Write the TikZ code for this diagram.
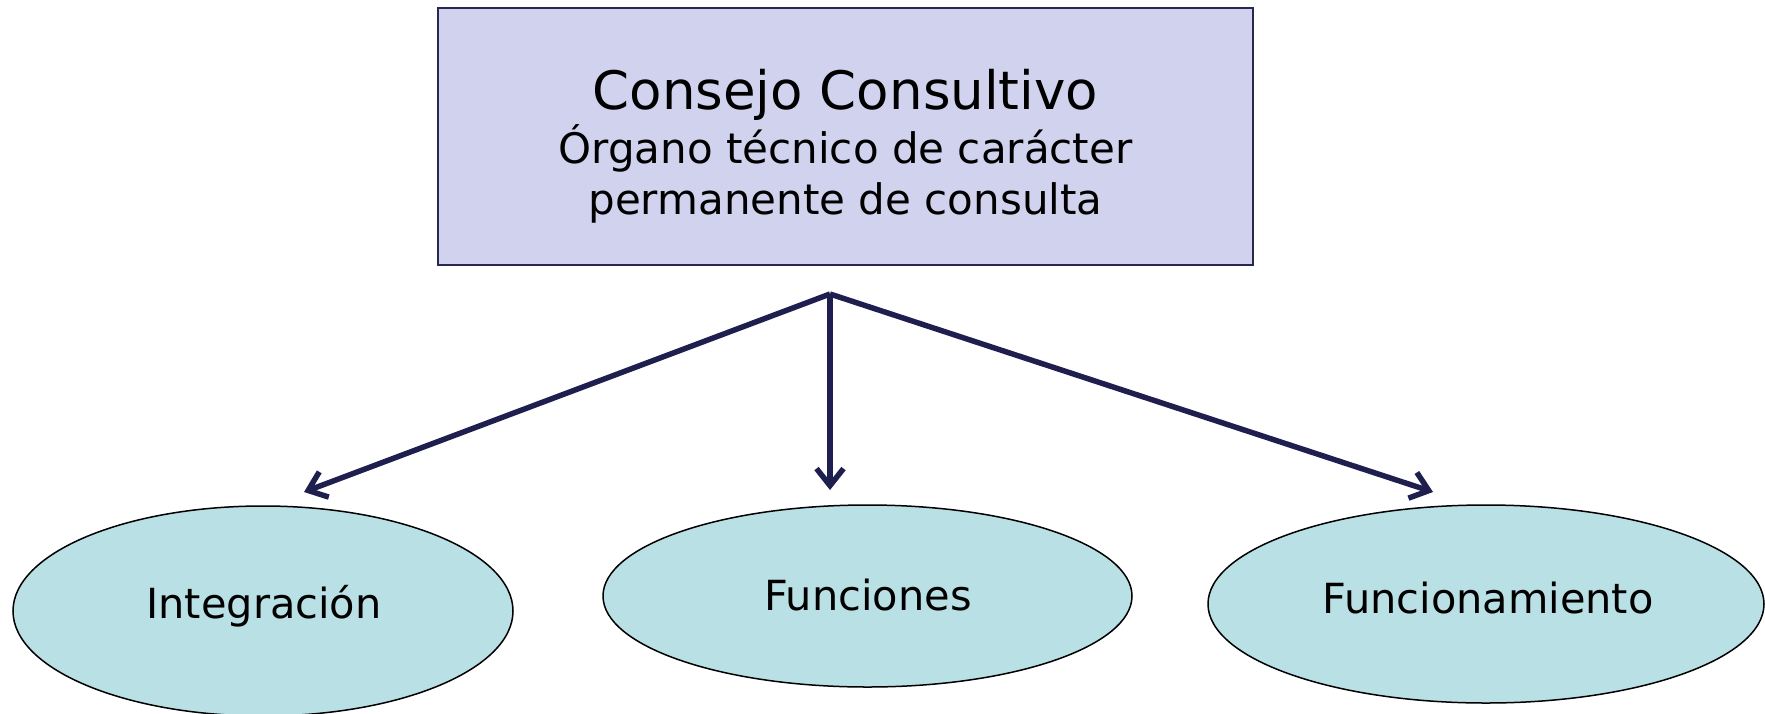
\documentclass[tikz,border=0pt]{standalone}
\usepackage{fontspec}
\setmainfont{DejaVu Sans}
\usetikzlibrary{arrows.meta,shapes.geometric}
\definecolor{boxfill}{RGB}{208,210,238}
\definecolor{boxline}{RGB}{40,40,80}
\definecolor{ellfill}{RGB}{185,224,228}
\definecolor{navy}{RGB}{31,31,79}
\tikzset{
  mainbox/.style={draw=boxline, line width=1.5pt, fill=boxfill, rectangle, inner sep=0pt, minimum width=815pt, minimum height=257pt},
  oval/.style={draw=black, line width=1.5pt, fill=ellfill, ellipse, inner sep=0pt},
  bigtxt/.style={anchor=base, inner sep=0pt, font=\fontsize{53}{60}\selectfont},
  medtxt/.style={anchor=base, inner sep=0pt, font=\fontsize{42}{50}\selectfont},
  ovaltxt/.style={anchor=base, inner sep=0pt, font=\fontsize{41.5}{50}\selectfont},
  conn/.style={draw=navy, line width=5.5pt, -{Straight Barb[length=17pt,width=27pt]}}
}
\begin{document}
\begin{tikzpicture}[x=1pt,y=-1pt]
\useasboundingbox (0,0) rectangle (1765,713);
\node[mainbox] (box) at (845.5,136.5) {};
\node[bigtxt] (t1) at (845.5,109) {Consejo Consultivo};
\node[medtxt] (t2) at (845.5,163) {Órgano técnico de carácter};
\node[medtxt] (t3) at (845.5,214) {permanente de consulta};
\node[oval, minimum width=500pt, minimum height=210pt] (e1) at (263,611) {};
\node[oval, minimum width=529pt, minimum height=182pt] (e2) at (867.5,596) {};
\node[oval, minimum width=556pt, minimum height=198pt] (e3) at (1486,604) {};
\node[ovaltxt] (l1) at (264,618) {Integración};
\node[ovaltxt] (l2) at (868,610) {Funciones};
\node[ovaltxt] (l3) at (1488,613) {Funcionamiento};
\coordinate (apex) at (830,294);
\coordinate (tip1) at (304,492);
\coordinate (tip2) at (830,490);
\coordinate (tip3) at (1433,492);
\draw[conn] (apex) -- (tip1);
\draw[conn] (apex) -- (tip2);
\draw[conn] (apex) -- (tip3);
\end{tikzpicture}
\end{document}
